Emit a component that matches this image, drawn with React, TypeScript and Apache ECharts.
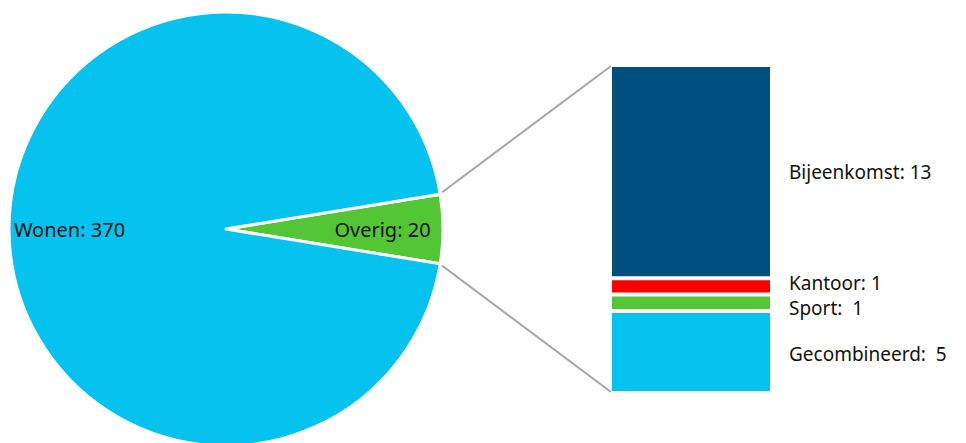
import React, { useEffect, useRef } from "react";
import * as echarts from "echarts";

const pieNames = ["Overig", "Wonen"];
const pieValues = [20, 370];
const pieColors = ["#52c634", "#05c3ee"];

const barNames = ["Gecombineerd", "Sport", "Kantoor", "Bijeenkomst"];
const barValues = [5, 1, 1, 13];
const barSeparators = ["  ", "  ", " ", " "];
const barColors = ["#05c3ee", "#52c634", "#ff0000", "#00507f"];
const barLabelOffsets = [2, 5, -3, 0];

const FONT = "'Noto Sans', 'Open Sans', sans-serif";

export default function App() {
  const ref = useRef<HTMLDivElement>(null);

  useEffect(() => {
    if (!ref.current) return;
    const chart = echarts.init(ref.current, null, { renderer: "svg" });

    const cx = 226;
    const cy = 229;
    const R = 217;
    const pieTotal = pieValues.reduce((a, b) => a + b, 0);
    const firstAngle = (pieValues[0] / pieTotal) * 360;
    const startAngle = firstAngle / 2;

    const gridLeft = 610;
    const gridTop = 65;
    const gridWidth = 162;
    const gridHeight = 328;
    const barTotal = barValues.reduce((a, b) => a + b, 0);

    const pieData = pieNames.map((n, i) => ({
      name: n,
      value: pieValues[i],
      itemStyle: { color: pieColors[i] },
    }));

    const option: any = {
      animation: false,
      grid: { left: gridLeft, top: gridTop, width: gridWidth, height: gridHeight },
      xAxis: { type: "category", data: ["Overig"], show: false },
      yAxis: { type: "value", min: 0, max: barTotal, show: false },
      series: [
        {
          type: "pie",
          center: [cx, cy],
          radius: R,
          startAngle,
          clockwise: true,
          silent: true,
          label: { show: false },
          labelLine: { show: false },
          itemStyle: { borderColor: "#ffffff", borderWidth: 3 },
          data: pieData,
        },
        {
          type: "pie",
          center: [cx, cy],
          radius: [90, R],
          startAngle,
          clockwise: true,
          silent: true,
          label: {
            show: true,
            position: "inside",
            formatter: (p: any) => `${p.name}: ${p.value}`,
            fontFamily: FONT,
            fontSize: 20,
            color: "#111111",
          },
          labelLine: { show: false },
          itemStyle: { color: "rgba(0,0,0,0)", borderWidth: 0 },
          data: pieNames.map((n, i) => ({ name: n, value: pieValues[i] })),
          z: 3,
        },
        ...barNames.map((n, i) => ({
          type: "bar",
          name: n,
          stack: "total",
          barWidth: "100%",
          data: [barValues[i]],
          itemStyle: { color: barColors[i], borderColor: "#ffffff", borderWidth: 2 },
          label: {
            show: true,
            position: "right",
            distance: 17,
            offset: [0, barLabelOffsets[i]],
            formatter: () => `${n}:${barSeparators[i]}${barValues[i]}`,
            fontFamily: FONT,
            fontSize: 19,
            lineHeight: 17,
            color: "#111111",
          },
        })),
      ],
    };
    chart.setOption(option);

    const rad = (startAngle * Math.PI) / 180;
    const edgeX = cx + R * Math.cos(rad) + 2;
    const edgeTopY = cy - R * Math.sin(rad);
    const edgeBotY = cy + R * Math.sin(rad);
    const topPx = chart.convertToPixel({ yAxisIndex: 0 }, barTotal) as number;
    const botPx = chart.convertToPixel({ yAxisIndex: 0 }, 0) as number;
    const barX = gridLeft + 1;

    chart.setOption({
      graphic: [
        {
          type: "line",
          shape: { x1: edgeX, y1: edgeTopY - 2, x2: barX, y2: topPx + 1 },
          style: { stroke: "#a6a6a6", lineWidth: 2 },
          z: 10,
        },
        {
          type: "line",
          shape: { x1: edgeX, y1: edgeBotY + 2, x2: barX, y2: botPx - 1 },
          style: { stroke: "#a6a6a6", lineWidth: 2 },
          z: 10,
        },
      ],
    });

    return () => chart.dispose();
  }, []);

  return (
    <div
      ref={ref}
      style={{ position: "fixed", left: 0, top: 0, width: 966, height: 443, background: "#ffffff" }}
    />
  );
}
